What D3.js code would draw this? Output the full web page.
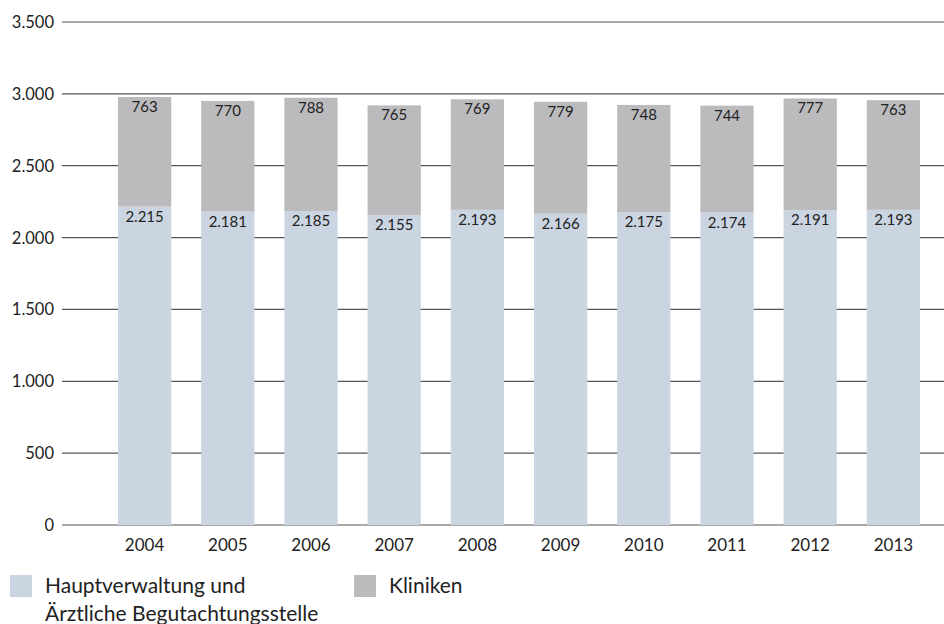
<!DOCTYPE html>
<html>
<head>
<meta charset="utf-8">
<script src="https://cdn.jsdelivr.net/npm/d3@7"></script>
<style>
  body { margin: 0; background: #fff; }
  svg text { font-family: Lato, "Open Sans", sans-serif; fill: #222; }
</style>
</head>
<body>
<div id="chart"></div>
<script>
var years = ["2004", "2005", "2006", "2007", "2008", "2009", "2010", "2011", "2012", "2013"];
var hauptverwaltung = [2215, 2181, 2185, 2155, 2193, 2166, 2175, 2174, 2191, 2193];
var kliniken = [763, 770, 788, 765, 769, 779, 748, 744, 777, 763];
var yTicks = [0, 500, 1000, 1500, 2000, 2500, 3000, 3500];
var seriesNames = ["Hauptverwaltung und\nÄrztliche Begutachtungsstelle", "Kliniken"];

var width = 944, height = 624;
var colors = ["#cbd5e1", "#bbbbbd"];

var de = d3.formatLocale({decimal: ",", thousands: ".", grouping: [3], currency: ["", " €"]});
var fmt = de.format(",d");

var svg = d3.select("#chart").append("svg")
  .attr("width", width)
  .attr("height", height);

var x = d3.scaleBand().domain(years).range([103, 935]).paddingInner(0.36).paddingOuter(0.18);
var y = d3.scaleLinear().domain([0, 3500]).range([525, 22]);

// grid lines + y labels
var grid = svg.append("g");
grid.selectAll("line").data(yTicks).enter().append("line")
  .attr("x1", 62).attr("x2", width)
  .attr("y1", function(d) { return y(d); })
  .attr("y2", function(d) { return y(d); })
  .attr("stroke", "#555").attr("stroke-width", 1.2);
grid.selectAll("text").data(yTicks).enter().append("text")
  .attr("x", 54)
  .attr("y", function(d) { return y(d); })
  .attr("dy", "0.36em")
  .attr("text-anchor", "end")
  .style("font-size", "16.5px")
  .text(function(d) { return fmt(d); });

var data = years.map(function(yr, i) { return {year: yr, a: hauptverwaltung[i], b: kliniken[i]}; });

var bars = svg.append("g").selectAll("g").data(data).enter().append("g");

bars.append("rect")
  .attr("x", function(d) { return x(d.year); })
  .attr("width", x.bandwidth())
  .attr("y", function(d) { return y(d.a); })
  .attr("height", function(d) { return y(0) - y(d.a); })
  .attr("fill", colors[0]);

bars.append("rect")
  .attr("x", function(d) { return x(d.year); })
  .attr("width", x.bandwidth())
  .attr("y", function(d) { return y(d.a + d.b); })
  .attr("height", function(d) { return y(d.a) - y(d.a + d.b); })
  .attr("fill", colors[1]);

// value labels
bars.append("text")
  .attr("x", function(d) { return x(d.year) + x.bandwidth() / 2; })
  .attr("y", function(d) { return y(d.a) + 15; })
  .attr("text-anchor", "middle")
  .style("font-size", "15px")
  .text(function(d) { return fmt(d.a); });

bars.append("text")
  .attr("x", function(d) { return x(d.year) + x.bandwidth() / 2; })
  .attr("y", function(d) { return y(d.a + d.b) + 15; })
  .attr("text-anchor", "middle")
  .style("font-size", "15px")
  .text(function(d) { return fmt(d.b); });

// x labels
svg.append("g").selectAll("text").data(years).enter().append("text")
  .attr("x", function(d) { return x(d) + x.bandwidth() / 2; })
  .attr("y", 551)
  .attr("text-anchor", "middle")
  .style("font-size", "17px")
  .text(function(d) { return d; });

// legend
var legendX = [10, 354];
var legend = svg.append("g").selectAll("g").data(seriesNames).enter().append("g")
  .attr("transform", function(d, i) { return "translate(" + legendX[i] + ",575)"; });
legend.append("rect").attr("width", 22).attr("height", 22)
  .attr("fill", function(d, i) { return colors[i]; });
legend.append("text")
  .attr("x", 35)
  .style("font-size", "21px")
  .selectAll("tspan")
  .data(function(d) { return d.split("\n"); })
  .enter().append("tspan")
  .attr("x", 35)
  .attr("y", function(d, i) { return 18 + i * 28; })
  .text(function(d) { return d; });
</script>
</body>
</html>
